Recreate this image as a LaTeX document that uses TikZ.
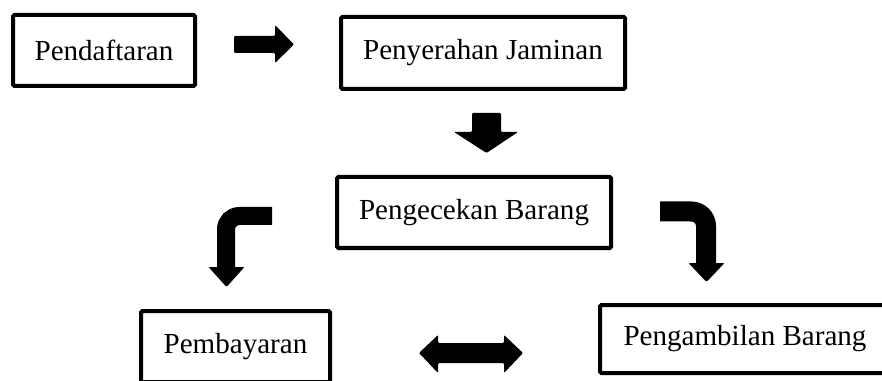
\documentclass[tikz,border=0pt]{standalone}
\usepackage{fontspec}
\setmainfont{Liberation Serif}
\begin{document}
\begin{tikzpicture}[x=0.75pt,y=-0.75pt,every node/.style={font=\fontsize{21.8}{26}\selectfont},
                    kotak/.style={draw, line width=3pt, rounded corners=1pt, inner sep=0pt},
                    panah/.style={fill=black, rounded corners=0.8pt}]
                    \useasboundingbox (0,0) rectangle (882,381);
                    \clip (0,0) rectangle (882,381);
                    % kotak proses
                    \node[kotak, minimum width=136.5pt, minimum height=53.25pt] (daftar) at (104,50.5) {Pendaftaran};
                    \node[kotak, minimum width=213pt, minimum height=54pt] (jaminan) at (483,53) {Penyerahan Jaminan};
                    \node[kotak, minimum width=205.5pt, minimum height=53.25pt] (cek) at (474,212.5) {Pengecekan Barang};
                    \node[kotak, minimum width=141.75pt, minimum height=53.25pt] (bayar) at (235.5,346.5) {Pembayaran};
                    \node[kotak, minimum width=217.5pt, minimum height=51pt] (ambil) at (745,339) {Pengambilan Barang};
                    % panah blok
                    \fill[panah] (234,36) -- (275,36) -- (275,25) -- (294,44.5) -- (275,63) -- (275,53) -- (234,53) -- cycle;
                    \fill[panah] (472,113) -- (501,113) -- (501,132) -- (518,132) -- (486.5,153) -- (454,132) -- (472,132) -- cycle;
                    \fill[panah] (419,353) -- (438,335) -- (438,343) -- (504,343) -- (504,335) -- (523,353) -- (504,373) -- (504,363) -- (438,363) -- (438,373) -- cycle;
                    \draw[line width=13.5pt, rounded corners=10pt] (272,216) -- (226,216) -- (226,270);
                    \fill[panah] (208.5,267) -- (244.5,267) -- (226.5,287) -- cycle;
                    \draw[line width=15pt, rounded corners=11pt] (660,211.5) -- (706,211.5) -- (706,265);
                    \fill[panah] (688.5,263) -- (724.5,263) -- (706.5,282) -- cycle;
                \end{tikzpicture}
\end{document}
